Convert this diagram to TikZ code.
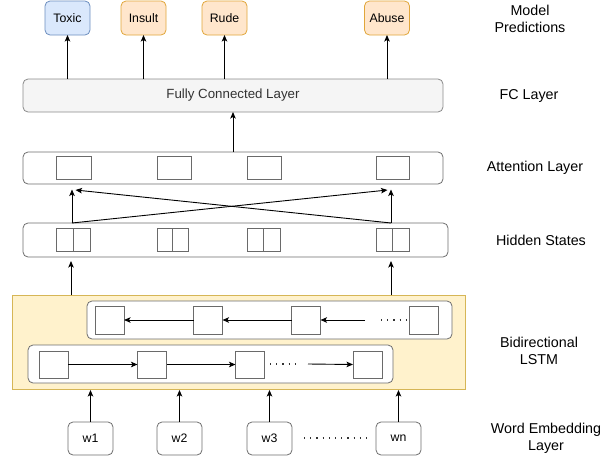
\documentclass[tikz,border=0pt]{standalone}
\usepackage{fontspec}
\setmainfont{Liberation Sans}
\usetikzlibrary{arrows.meta,calc}
\definecolor{bluefill}{HTML}{DAE8FC}
\definecolor{bluedraw}{HTML}{6C8EBF}
\definecolor{orfill}{HTML}{FFE6CC}
\definecolor{ordraw}{HTML}{E0A63A}
\definecolor{yelfill}{HTML}{FFF2CC}
\definecolor{yeldraw}{HTML}{D6B656}
\definecolor{fcfill}{HTML}{F5F5F5}
\definecolor{fcdraw}{HTML}{8A8A8A}
\definecolor{fctext}{HTML}{333333}
\definecolor{boxgray}{HTML}{6E6E6E}
\definecolor{sqgray}{HTML}{6A6A6A}
\begin{document}
\begin{tikzpicture}[x=1pt,y=-1pt,
  every node/.style={inner sep=0pt, outer sep=0pt},
  rbox/.style={draw=boxgray, rounded corners=5pt, line width=0.8pt},
  pred/.style={rbox, minimum width=45pt, minimum height=34pt, font=\fontsize{12.3}{14}\selectfont},
  predblue/.style={pred, fill=bluefill, draw=bluedraw},
  predor/.style={pred, fill=orfill, draw=ordraw},
  layer/.style={rbox, fill=white},
  sq/.style={draw=sqgray, fill=white, line width=0.8pt, minimum height=23pt},
  lsq/.style={draw=sqgray, fill=white, line width=0.8pt, minimum width=29pt, minimum height=28pt},
  word/.style={rbox, fill=white, minimum width=45pt, minimum height=33pt, font=\fontsize{12.3}{14}\selectfont},
  lab/.style={align=center, font=\fontsize{14.3}{16.5}\selectfont},
  arr/.style={-{Stealth[length=6.5pt,width=5.5pt,inset=1.5pt]}, line width=0.9pt, black},
  dots/.style={line width=1.1pt, dash pattern=on 1.2pt off 5pt, black!80},
]
\useasboundingbox (0,0) rectangle (611,458);

% predictions
\node[predblue] (toxic) at (67.5,18) {Toxic};
\node[predor] (insult) at (143.5,18) {Insult};
\node[predor] (rude) at (224.5,18) {Rude};
\node[predor] (abuse) at (387,18) {Abuse};

% FC layer
\node[rbox, fill=fcfill, draw=fcdraw, minimum width=420pt, minimum height=33pt,
      text=fctext, font=\fontsize{13.3}{15}\selectfont] (fc) at (233,95.5) {Fully Connected Layer};

\draw[arr] (toxic.south |- fc.north) -- (toxic.south);
\draw[arr] (insult.south |- fc.north) -- (insult.south);
\draw[arr] (rude.south |- fc.north) -- (rude.south);
\draw[arr] (abuse.south |- fc.north) -- (abuse.south);

% attention layer
\node[layer, minimum width=420pt, minimum height=32pt] (att) at (233,168) {};
\node[sq, minimum width=35pt] (a1) at (73.5,167.5) {};
\node[sq, minimum width=34pt] (a2) at (174,167.5) {};
\node[sq, minimum width=34pt] (a3) at (264,167.5) {};
\node[sq, minimum width=33pt] (a4) at (392.5,167.5) {};

\draw[arr] (att.north) -- (fc.south);

% hidden states
\node[layer, minimum width=425pt, minimum height=34pt] (hid) at (235.5,240) {};
\node[sq, minimum width=34pt] (h1) at (73,239.5) {};
\node[sq, minimum width=31pt] (h2) at (172.5,239.5) {};
\node[sq, minimum width=33pt] (h3) at (263.5,239.5) {};
\node[sq, minimum width=33pt] (h4) at (392.5,239.5) {};
\foreach \n in {h1,h2,h3,h4} \draw[draw=sqgray, line width=0.8pt] (\n.north) -- (\n.south);

\coordinate (hl) at (72,223);
\coordinate (hr) at (391,223);
\coordinate (tl) at (72,189.5);
\coordinate (tr) at (391,189.5);
\coordinate (tlx) at (75.5,190);
\coordinate (trx) at (387.5,190);
\draw[arr] (hl) -- (tl);
\draw[arr] (hr) -- (tr);
\draw[arr] (hl) -- (trx);
\draw[arr] (hr) -- (tlx);

% bidirectional LSTM
\node[draw=yeldraw, fill=yelfill, line width=0.8pt, minimum width=453pt, minimum height=94pt] (lstm) at (238.5,342) {};

\coordinate (yl) at (71,295);
\coordinate (yr) at (391,295);
\coordinate (hbl) at (71,261);
\coordinate (hbr) at (391,261);
\draw[arr] (yl) -- (hbl);
\draw[arr] (yr) -- (hbr);

% backward LSTM
\node[layer, minimum width=365pt, minimum height=38pt] (bwd) at (269.5,320) {};
\node[lsq] (b1) at (109.5,320) {};
\node[lsq] (b2) at (208,320) {};
\node[lsq] (b3) at (306,320) {};
\node[lsq] (b4) at (423.5,320) {};
\coordinate (bs) at (365,320);
\coordinate (bd) at (381,320);
\draw[arr] (b2.west) -- (b1.east);
\draw[arr] (b3.west) -- (b2.east);
\draw[arr] (bs) -- (b3.east);
\draw[dots] (bd) -- (b4.west);

% forward LSTM
\node[layer, minimum width=365pt, minimum height=38pt] (fwd) at (210.5,364) {};
\node[lsq, minimum height=27pt] (f1) at (53.5,364.5) {};
\node[lsq, minimum height=27pt] (f2) at (152,364.5) {};
\node[lsq, minimum height=27pt] (f3) at (250,364.5) {};
\node[lsq, minimum height=27pt] (f4) at (367.5,364.5) {};
\coordinate (fd1) at (270,364);
\coordinate (fd2) at (300,364);
\coordinate (fs) at (308,364);
\draw[arr] (f1.east) -- (f2.west);
\draw[arr] (f2.east) -- (f3.west);
\draw[dots] (fd1) -- (fd2);
\draw[arr] (fs) -- (f4.west);

% words
\node[word] (w1) at (90.5,438.5) {w1};
\node[word] (w2) at (179.5,438.5) {w2};
\node[word] (w3) at (269.5,438.5) {w3};
\node[word] (wn) at (398.5,438.5) {wn};
\foreach \n in {w1,w2,w3,wn} \draw[arr] (\n.north) -- ($(\n.north |- lstm.south)+(0,1)$);
\coordinate (wd1) at (304,438);
\coordinate (wd2) at (369,438);
\draw[dots] (wd1) -- (wd2);

% labels
\node[lab] (l1) at (530,19) {Model\\Predictions};
\node[lab] (l2) at (529,96) {FC Layer};
\node[lab] (l3) at (535,168) {Attention Layer};
\node[lab] (l4) at (541,240) {Hidden States};
\node[lab] (l5) at (539,351) {Bidirectional\\LSTM};
\node[lab] (l6) at (546,438.5) {Word Embedding\\Layer};
\end{tikzpicture}
\end{document}
